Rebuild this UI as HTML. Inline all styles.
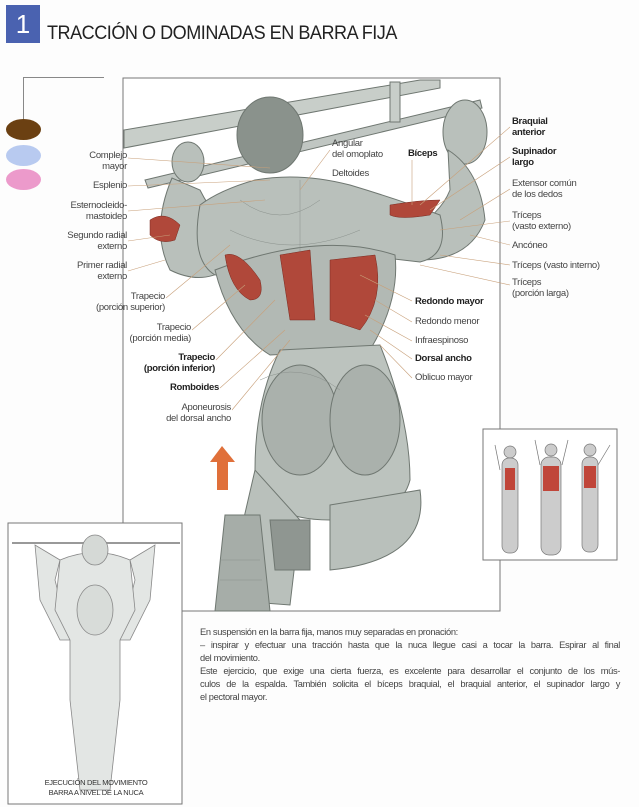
<!DOCTYPE html>
<html><head><meta charset="utf-8"><style>
body{margin:0;width:639px;height:807px;background:#fdfdfd;position:relative;overflow:hidden;font-family:"Liberation Sans",sans-serif;color:#444}
.l{position:absolute;font-size:9.5px;line-height:11px;letter-spacing:-0.3px;white-space:nowrap}
.r{text-align:right}
.b{font-weight:bold;color:#222}
.p{position:absolute;left:200px;width:420px;font-size:9.3px;letter-spacing:-0.35px;color:#444;white-space:nowrap;text-align:justify;text-align-last:justify}
.p.s{text-align-last:left}
</style></head><body>
<div style="position:absolute;left:6px;top:5px;width:34px;height:38px;background:#4a62b0;color:#fff;font-size:26px;line-height:38px;text-align:center">1</div>
<div style="position:absolute;left:47px;top:23px;font-size:19px;color:#222;letter-spacing:-0.5px;transform:scaleX(0.95);transform-origin:left">TRACCIÓN O DOMINADAS EN BARRA FIJA</div>
<div style="position:absolute;left:23px;top:77px;width:80px;height:58px;border-left:1px solid #888;border-top:1px solid #888"></div>
<div style="position:absolute;left:6px;top:119px;width:35px;height:21px;border-radius:50%;background:#6b4012"></div>
<div style="position:absolute;left:6px;top:145px;width:35px;height:21px;border-radius:50%;background:#b8caf0"></div>
<div style="position:absolute;left:6px;top:169px;width:35px;height:21px;border-radius:50%;background:#ec9acb"></div>
<svg style="position:absolute;left:0;top:0" width="639" height="807">
<rect x="123" y="78" width="377" height="533" fill="#fff" stroke="#777"/>
<g fill="#b9c0bb" stroke="#6f7771" stroke-width="1">
<polygon points="124,130 420,80 440,80 440,88 124,148" fill="#c8cec9"/>
<polygon points="145,180 480,100 482,108 148,188" fill="#c0c6c2"/>
<rect x="390" y="82" width="10" height="40" fill="#c8cec9"/>
<ellipse cx="270" cy="135" rx="33" ry="38" fill="#8a928c"/>
<ellipse cx="188" cy="162" rx="16" ry="20"/>
<ellipse cx="465" cy="132" rx="22" ry="32"/>
<path d="M172,178 Q150,230 170,270 Q200,285 225,270 L240,240 Q215,220 200,190 Z"/>
<path d="M448,150 Q480,170 485,220 Q470,260 420,260 L410,230 Q440,215 450,190 Z"/>
<path d="M200,205 Q190,260 215,275 L240,270 Q300,240 360,255 L420,262 Q450,255 440,215 Q400,200 350,185 Q300,172 255,180 Q220,190 200,205 Z"/>
<path d="M215,270 Q230,330 270,355 L370,350 Q400,300 395,255 Q320,230 215,270 Z" fill="#b2b9b4"/>
<path d="M280,350 L380,345 Q410,420 410,480 Q400,520 330,520 Q260,520 255,470 Q255,400 280,350 Z" fill="#bcc3be"/>
<ellipse cx="300" cy="420" rx="38" ry="55" fill="#aab1ac"/>
<ellipse cx="365" cy="420" rx="35" ry="55" fill="#aab1ac"/>
<path d="M255,470 L225,600 L290,605 L300,520 Z"/>
<path d="M330,505 L420,490 Q430,560 330,570 Z"/>
<path d="M225,515 L260,515 L270,611 L215,611 Z" fill="#a6ada8"/>
<path d="M270,520 L310,520 L310,570 L275,570 Z" fill="#8f9691"/>
</g>
<g stroke="#8a918c" stroke-width="0.5" fill="none">
<path d="M240,200 Q280,230 320,200 M230,230 Q290,260 360,230 M300,180 L300,260 M260,380 Q300,360 340,390 M220,560 L260,560 M220,580 L262,580"/>
</g>
<g fill="#b0483a" stroke="#7a2a20" stroke-width="0.5">
<path d="M225,255 Q240,250 260,280 Q265,300 250,300 Q230,290 225,255 Z"/>
<path d="M280,255 L310,250 L315,320 L290,320 Z"/>
<path d="M330,260 L375,255 Q385,300 360,330 L330,320 Z"/>
<path d="M390,205 Q420,200 440,200 L430,215 Q400,220 390,215 Z"/>
<path d="M150,220 Q165,210 180,225 L175,240 Q160,245 150,235 Z"/>
</g>
<polygon points="222,446 210,462 217,462 217,490 228,490 228,462 235,462" fill="#e0703a"/>
<g stroke="#c8a07a" stroke-width="0.6" fill="none">
<line x1="128" y1="158" x2="270" y2="168"/><line x1="128" y1="186" x2="270" y2="180"/>
<line x1="128" y1="211" x2="265" y2="200"/><line x1="128" y1="241" x2="170" y2="235"/>
<line x1="128" y1="271" x2="165" y2="260"/><line x1="166" y1="298" x2="230" y2="245"/>
<line x1="192" y1="330" x2="245" y2="285"/><line x1="216" y1="360" x2="275" y2="300"/>
<line x1="220" y1="388" x2="285" y2="330"/><line x1="232" y1="410" x2="290" y2="340"/>
<line x1="330" y1="150" x2="300" y2="190"/><line x1="412" y1="160" x2="412" y2="205"/>
<line x1="510" y1="127" x2="420" y2="205"/><line x1="510" y1="157" x2="430" y2="210"/>
<line x1="510" y1="189" x2="460" y2="220"/><line x1="510" y1="221" x2="440" y2="230"/>
<line x1="510" y1="245" x2="470" y2="235"/><line x1="510" y1="265" x2="440" y2="255"/>
<line x1="510" y1="285" x2="420" y2="265"/><line x1="412" y1="301" x2="360" y2="275"/>
<line x1="412" y1="322" x2="375" y2="300"/><line x1="412" y1="341" x2="365" y2="315"/>
<line x1="412" y1="359" x2="370" y2="330"/><line x1="412" y1="378" x2="380" y2="345"/>
</g>
<rect x="483" y="429" width="134" height="131" fill="#fff" stroke="#777"/>
<g fill="#ccc" stroke="#777" stroke-width="0.7">
<circle cx="510" cy="452" r="6"/><circle cx="551" cy="450" r="6"/><circle cx="590" cy="450" r="6"/>
<line x1="500" y1="470" x2="495" y2="445"/><line x1="540" y1="465" x2="535" y2="440"/><line x1="562" y1="465" x2="568" y2="440"/><line x1="598" y1="465" x2="610" y2="445"/>
<rect x="502" y="458" width="16" height="95" rx="7"/><rect x="541" y="457" width="20" height="98" rx="8"/><rect x="582" y="457" width="16" height="95" rx="7"/>
</g>
<rect x="505" y="468" width="10" height="22" fill="#c0463a"/><rect x="543" y="466" width="16" height="25" fill="#c0463a"/><rect x="584" y="466" width="12" height="22" fill="#c0463a"/>
<rect x="8" y="523" width="174" height="281" fill="#fff" stroke="#777"/>
<line x1="12" y1="543" x2="180" y2="543" stroke="#999" stroke-width="2"/>
<g fill="#e3e6e4" stroke="#888" stroke-width="0.8">
<path d="M35,545 L40,600 L60,640 L70,640 L55,580 L60,560 Z"/>
<path d="M155,545 L150,600 L130,640 L120,640 L135,580 L130,560 Z"/>
<path d="M60,560 Q95,545 130,560 L135,610 L120,640 L120,700 L110,790 L80,790 L70,700 L70,640 L55,610 Z"/>
<ellipse cx="95" cy="550" rx="13" ry="15" fill="#d5d9d6"/>
<ellipse cx="95" cy="610" rx="18" ry="25" fill="#d8dcd9"/>
</g>
</svg>
<div class="l r" style="right:512px;top:150px">Complejo<br>mayor</div>
<div class="l r" style="right:512px;top:180px">Esplenio</div>
<div class="l r" style="right:512px;top:200px">Esternocleido-<br>mastoideo</div>
<div class="l r" style="right:512px;top:230px">Segundo radial<br>externo</div>
<div class="l r" style="right:512px;top:260px">Primer radial<br>externo</div>
<div class="l r" style="right:474px;top:291px">Trapecio<br>(porción superior)</div>
<div class="l r" style="right:448px;top:322px">Trapecio<br>(porción media)</div>
<div class="l r b" style="right:424px;top:352px">Trapecio<br>(porción inferior)</div>
<div class="l r b" style="right:420px;top:382px">Romboides</div>
<div class="l r" style="right:408px;top:402px">Aponeurosis<br>del dorsal ancho</div>
<div class="l" style="left:332px;top:138px">Angular<br>del omoplato</div>
<div class="l b" style="left:408px;top:148px">Bíceps</div>
<div class="l" style="left:332px;top:168px">Deltoides</div>
<div class="l b" style="left:512px;top:116px">Braquial<br>anterior</div>
<div class="l b" style="left:512px;top:146px">Supinador<br>largo</div>
<div class="l" style="left:512px;top:178px">Extensor común<br>de los dedos</div>
<div class="l" style="left:512px;top:210px">Tríceps<br>(vasto externo)</div>
<div class="l" style="left:512px;top:240px">Ancóneo</div>
<div class="l" style="left:512px;top:260px">Tríceps (vasto interno)</div>
<div class="l" style="left:512px;top:277px">Tríceps<br>(porción larga)</div>
<div class="l b" style="left:415px;top:296px">Redondo mayor</div>
<div class="l" style="left:415px;top:316px">Redondo menor</div>
<div class="l" style="left:415px;top:335px">Infraespinoso</div>
<div class="l b" style="left:415px;top:353px">Dorsal ancho</div>
<div class="l" style="left:415px;top:372px">Oblicuo mayor</div>
<div class="l" style="left:16px;top:778px;width:160px;text-align:center;font-size:7.5px;line-height:10px;color:#333">EJECUCIÓN DEL MOVIMIENTO<br>BARRA A NIVEL DE LA NUCA</div>
<div class="p s" style="top:627px">En suspensión en la barra fija, manos muy separadas en pronación:</div>
<div class="p" style="top:640px">– inspirar y efectuar una tracción hasta que la nuca llegue casi a tocar la barra. Espirar al final</div>
<div class="p s" style="top:653px">del movimiento.</div>
<div class="p" style="top:666px">Este ejercicio, que exige una cierta fuerza, es excelente para desarrollar el conjunto de los mús-</div>
<div class="p" style="top:679px">culos de la espalda. También solicita el bíceps braquial, el braquial anterior, el supinador largo y</div>
<div class="p s" style="top:692px">el pectoral mayor.</div>
</body></html>
